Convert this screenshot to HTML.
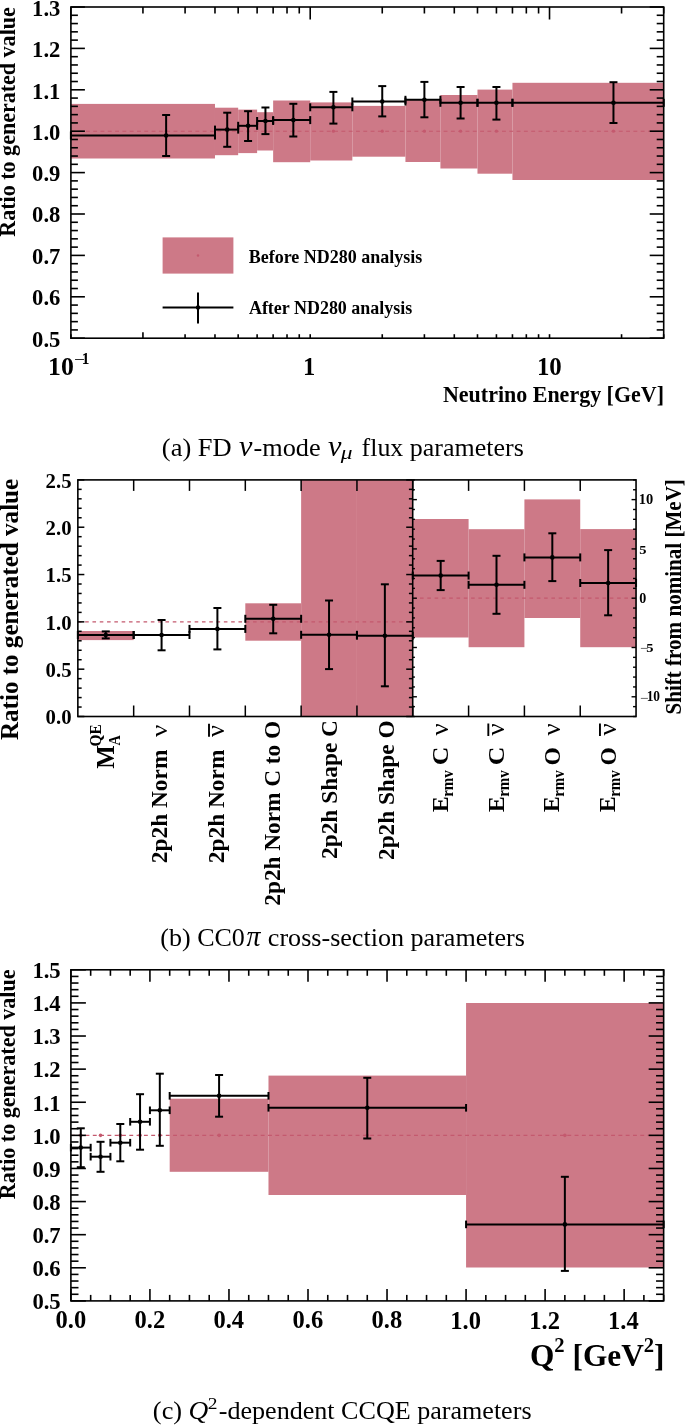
<!DOCTYPE html>
<html><head><meta charset="utf-8"><style>
html,body{margin:0;padding:0;background:#fff;overflow:hidden;}
svg{display:block;will-change:transform;}
text{font-family:"Liberation Serif",serif;fill:#000;}
</style></head><body>
<svg width="685" height="1425" viewBox="0 0 685 1425">
<rect x="70.90" y="103.90" width="144.08" height="54.60" fill="#cd7987"/>
<rect x="214.98" y="107.70" width="23.19" height="47.50" fill="#cd7987"/>
<rect x="238.17" y="109.60" width="18.95" height="43.50" fill="#cd7987"/>
<rect x="257.12" y="112.20" width="16.02" height="38.30" fill="#cd7987"/>
<rect x="273.14" y="100.50" width="37.07" height="61.70" fill="#cd7987"/>
<rect x="310.21" y="102.40" width="42.14" height="58.10" fill="#cd7987"/>
<rect x="352.35" y="105.90" width="53.09" height="50.80" fill="#cd7987"/>
<rect x="405.44" y="100.10" width="34.97" height="61.90" fill="#cd7987"/>
<rect x="440.41" y="95.00" width="37.07" height="73.50" fill="#cd7987"/>
<rect x="477.48" y="89.60" width="34.97" height="84.10" fill="#cd7987"/>
<rect x="512.45" y="82.80" width="151.25" height="97.20" fill="#cd7987"/>
<line x1="70.90" y1="131.20" x2="663.70" y2="131.20" stroke="#c4596e" stroke-width="1.1" stroke-dasharray="3.9 3.4" stroke-dashoffset="-0.4"/>
<circle cx="166.13" cy="131.20" r="1.6" fill="#c4596e"/>
<circle cx="227.22" cy="131.20" r="1.6" fill="#c4596e"/>
<circle cx="248.08" cy="131.20" r="1.6" fill="#c4596e"/>
<circle cx="265.44" cy="131.20" r="1.6" fill="#c4596e"/>
<circle cx="293.32" cy="131.20" r="1.6" fill="#c4596e"/>
<circle cx="333.40" cy="131.20" r="1.6" fill="#c4596e"/>
<circle cx="382.25" cy="131.20" r="1.6" fill="#c4596e"/>
<circle cx="424.39" cy="131.20" r="1.6" fill="#c4596e"/>
<circle cx="460.59" cy="131.20" r="1.6" fill="#c4596e"/>
<circle cx="496.43" cy="131.20" r="1.6" fill="#c4596e"/>
<circle cx="613.46" cy="131.20" r="1.6" fill="#c4596e"/>
<line x1="70.90" y1="135.50" x2="214.98" y2="135.50" stroke="#000" stroke-width="2" />
<line x1="70.90" y1="131.50" x2="70.90" y2="139.50" stroke="#000" stroke-width="2" />
<line x1="214.98" y1="131.50" x2="214.98" y2="139.50" stroke="#000" stroke-width="2" />
<line x1="166.13" y1="115.00" x2="166.13" y2="156.00" stroke="#000" stroke-width="2" />
<line x1="162.13" y1="115.00" x2="170.13" y2="115.00" stroke="#000" stroke-width="2" />
<line x1="162.13" y1="156.00" x2="170.13" y2="156.00" stroke="#000" stroke-width="2" />
<circle cx="166.13" cy="135.50" r="2.3" fill="#000"/>
<line x1="214.98" y1="129.60" x2="238.17" y2="129.60" stroke="#000" stroke-width="2" />
<line x1="214.98" y1="125.60" x2="214.98" y2="133.60" stroke="#000" stroke-width="2" />
<line x1="238.17" y1="125.60" x2="238.17" y2="133.60" stroke="#000" stroke-width="2" />
<line x1="227.22" y1="112.70" x2="227.22" y2="146.80" stroke="#000" stroke-width="2" />
<line x1="223.22" y1="112.70" x2="231.22" y2="112.70" stroke="#000" stroke-width="2" />
<line x1="223.22" y1="146.80" x2="231.22" y2="146.80" stroke="#000" stroke-width="2" />
<circle cx="227.22" cy="129.60" r="2.3" fill="#000"/>
<line x1="238.17" y1="125.80" x2="257.12" y2="125.80" stroke="#000" stroke-width="2" />
<line x1="238.17" y1="121.80" x2="238.17" y2="129.80" stroke="#000" stroke-width="2" />
<line x1="257.12" y1="121.80" x2="257.12" y2="129.80" stroke="#000" stroke-width="2" />
<line x1="248.08" y1="111.20" x2="248.08" y2="141.00" stroke="#000" stroke-width="2" />
<line x1="244.08" y1="111.20" x2="252.08" y2="111.20" stroke="#000" stroke-width="2" />
<line x1="244.08" y1="141.00" x2="252.08" y2="141.00" stroke="#000" stroke-width="2" />
<circle cx="248.08" cy="125.80" r="2.3" fill="#000"/>
<line x1="257.12" y1="121.00" x2="273.14" y2="121.00" stroke="#000" stroke-width="2" />
<line x1="257.12" y1="117.00" x2="257.12" y2="125.00" stroke="#000" stroke-width="2" />
<line x1="273.14" y1="117.00" x2="273.14" y2="125.00" stroke="#000" stroke-width="2" />
<line x1="265.44" y1="107.50" x2="265.44" y2="134.10" stroke="#000" stroke-width="2" />
<line x1="261.44" y1="107.50" x2="269.44" y2="107.50" stroke="#000" stroke-width="2" />
<line x1="261.44" y1="134.10" x2="269.44" y2="134.10" stroke="#000" stroke-width="2" />
<circle cx="265.44" cy="121.00" r="2.3" fill="#000"/>
<line x1="273.14" y1="120.10" x2="310.21" y2="120.10" stroke="#000" stroke-width="2" />
<line x1="273.14" y1="116.10" x2="273.14" y2="124.10" stroke="#000" stroke-width="2" />
<line x1="310.21" y1="116.10" x2="310.21" y2="124.10" stroke="#000" stroke-width="2" />
<line x1="293.32" y1="103.80" x2="293.32" y2="136.50" stroke="#000" stroke-width="2" />
<line x1="289.32" y1="103.80" x2="297.32" y2="103.80" stroke="#000" stroke-width="2" />
<line x1="289.32" y1="136.50" x2="297.32" y2="136.50" stroke="#000" stroke-width="2" />
<circle cx="293.32" cy="120.10" r="2.3" fill="#000"/>
<line x1="310.21" y1="107.30" x2="352.35" y2="107.30" stroke="#000" stroke-width="2" />
<line x1="310.21" y1="103.30" x2="310.21" y2="111.30" stroke="#000" stroke-width="2" />
<line x1="352.35" y1="103.30" x2="352.35" y2="111.30" stroke="#000" stroke-width="2" />
<line x1="333.40" y1="91.90" x2="333.40" y2="123.60" stroke="#000" stroke-width="2" />
<line x1="329.40" y1="91.90" x2="337.40" y2="91.90" stroke="#000" stroke-width="2" />
<line x1="329.40" y1="123.60" x2="337.40" y2="123.60" stroke="#000" stroke-width="2" />
<circle cx="333.40" cy="107.30" r="2.3" fill="#000"/>
<line x1="352.35" y1="101.50" x2="405.44" y2="101.50" stroke="#000" stroke-width="2" />
<line x1="352.35" y1="97.50" x2="352.35" y2="105.50" stroke="#000" stroke-width="2" />
<line x1="405.44" y1="97.50" x2="405.44" y2="105.50" stroke="#000" stroke-width="2" />
<line x1="382.25" y1="86.10" x2="382.25" y2="116.40" stroke="#000" stroke-width="2" />
<line x1="378.25" y1="86.10" x2="386.25" y2="86.10" stroke="#000" stroke-width="2" />
<line x1="378.25" y1="116.40" x2="386.25" y2="116.40" stroke="#000" stroke-width="2" />
<circle cx="382.25" cy="101.50" r="2.3" fill="#000"/>
<line x1="405.44" y1="99.80" x2="440.41" y2="99.80" stroke="#000" stroke-width="2" />
<line x1="405.44" y1="95.80" x2="405.44" y2="103.80" stroke="#000" stroke-width="2" />
<line x1="440.41" y1="95.80" x2="440.41" y2="103.80" stroke="#000" stroke-width="2" />
<line x1="424.39" y1="81.90" x2="424.39" y2="117.30" stroke="#000" stroke-width="2" />
<line x1="420.39" y1="81.90" x2="428.39" y2="81.90" stroke="#000" stroke-width="2" />
<line x1="420.39" y1="117.30" x2="428.39" y2="117.30" stroke="#000" stroke-width="2" />
<circle cx="424.39" cy="99.80" r="2.3" fill="#000"/>
<line x1="440.41" y1="102.80" x2="477.48" y2="102.80" stroke="#000" stroke-width="2" />
<line x1="440.41" y1="98.80" x2="440.41" y2="106.80" stroke="#000" stroke-width="2" />
<line x1="477.48" y1="98.80" x2="477.48" y2="106.80" stroke="#000" stroke-width="2" />
<line x1="460.59" y1="87.00" x2="460.59" y2="118.50" stroke="#000" stroke-width="2" />
<line x1="456.59" y1="87.00" x2="464.59" y2="87.00" stroke="#000" stroke-width="2" />
<line x1="456.59" y1="118.50" x2="464.59" y2="118.50" stroke="#000" stroke-width="2" />
<circle cx="460.59" cy="102.80" r="2.3" fill="#000"/>
<line x1="477.48" y1="102.80" x2="512.45" y2="102.80" stroke="#000" stroke-width="2" />
<line x1="477.48" y1="98.80" x2="477.48" y2="106.80" stroke="#000" stroke-width="2" />
<line x1="512.45" y1="98.80" x2="512.45" y2="106.80" stroke="#000" stroke-width="2" />
<line x1="496.43" y1="87.00" x2="496.43" y2="119.60" stroke="#000" stroke-width="2" />
<line x1="492.43" y1="87.00" x2="500.43" y2="87.00" stroke="#000" stroke-width="2" />
<line x1="492.43" y1="119.60" x2="500.43" y2="119.60" stroke="#000" stroke-width="2" />
<circle cx="496.43" cy="102.80" r="2.3" fill="#000"/>
<line x1="512.45" y1="102.80" x2="663.70" y2="102.80" stroke="#000" stroke-width="2" />
<line x1="512.45" y1="98.80" x2="512.45" y2="106.80" stroke="#000" stroke-width="2" />
<line x1="663.70" y1="98.80" x2="663.70" y2="106.80" stroke="#000" stroke-width="2" />
<line x1="613.46" y1="82.20" x2="613.46" y2="123.00" stroke="#000" stroke-width="2" />
<line x1="609.46" y1="82.20" x2="617.46" y2="82.20" stroke="#000" stroke-width="2" />
<line x1="609.46" y1="123.00" x2="617.46" y2="123.00" stroke="#000" stroke-width="2" />
<circle cx="613.46" cy="102.80" r="2.3" fill="#000"/>
<line x1="70.90" y1="338.20" x2="84.90" y2="338.20" stroke="#000" stroke-width="1.6" />
<line x1="663.70" y1="338.20" x2="649.70" y2="338.20" stroke="#000" stroke-width="1.6" />
<line x1="70.90" y1="329.92" x2="77.90" y2="329.92" stroke="#000" stroke-width="1.6" />
<line x1="663.70" y1="329.92" x2="656.70" y2="329.92" stroke="#000" stroke-width="1.6" />
<line x1="70.90" y1="321.64" x2="77.90" y2="321.64" stroke="#000" stroke-width="1.6" />
<line x1="663.70" y1="321.64" x2="656.70" y2="321.64" stroke="#000" stroke-width="1.6" />
<line x1="70.90" y1="313.36" x2="77.90" y2="313.36" stroke="#000" stroke-width="1.6" />
<line x1="663.70" y1="313.36" x2="656.70" y2="313.36" stroke="#000" stroke-width="1.6" />
<line x1="70.90" y1="305.08" x2="77.90" y2="305.08" stroke="#000" stroke-width="1.6" />
<line x1="663.70" y1="305.08" x2="656.70" y2="305.08" stroke="#000" stroke-width="1.6" />
<line x1="70.90" y1="296.80" x2="84.90" y2="296.80" stroke="#000" stroke-width="1.6" />
<line x1="663.70" y1="296.80" x2="649.70" y2="296.80" stroke="#000" stroke-width="1.6" />
<line x1="70.90" y1="288.52" x2="77.90" y2="288.52" stroke="#000" stroke-width="1.6" />
<line x1="663.70" y1="288.52" x2="656.70" y2="288.52" stroke="#000" stroke-width="1.6" />
<line x1="70.90" y1="280.24" x2="77.90" y2="280.24" stroke="#000" stroke-width="1.6" />
<line x1="663.70" y1="280.24" x2="656.70" y2="280.24" stroke="#000" stroke-width="1.6" />
<line x1="70.90" y1="271.96" x2="77.90" y2="271.96" stroke="#000" stroke-width="1.6" />
<line x1="663.70" y1="271.96" x2="656.70" y2="271.96" stroke="#000" stroke-width="1.6" />
<line x1="70.90" y1="263.68" x2="77.90" y2="263.68" stroke="#000" stroke-width="1.6" />
<line x1="663.70" y1="263.68" x2="656.70" y2="263.68" stroke="#000" stroke-width="1.6" />
<line x1="70.90" y1="255.40" x2="84.90" y2="255.40" stroke="#000" stroke-width="1.6" />
<line x1="663.70" y1="255.40" x2="649.70" y2="255.40" stroke="#000" stroke-width="1.6" />
<line x1="70.90" y1="247.12" x2="77.90" y2="247.12" stroke="#000" stroke-width="1.6" />
<line x1="663.70" y1="247.12" x2="656.70" y2="247.12" stroke="#000" stroke-width="1.6" />
<line x1="70.90" y1="238.84" x2="77.90" y2="238.84" stroke="#000" stroke-width="1.6" />
<line x1="663.70" y1="238.84" x2="656.70" y2="238.84" stroke="#000" stroke-width="1.6" />
<line x1="70.90" y1="230.56" x2="77.90" y2="230.56" stroke="#000" stroke-width="1.6" />
<line x1="663.70" y1="230.56" x2="656.70" y2="230.56" stroke="#000" stroke-width="1.6" />
<line x1="70.90" y1="222.28" x2="77.90" y2="222.28" stroke="#000" stroke-width="1.6" />
<line x1="663.70" y1="222.28" x2="656.70" y2="222.28" stroke="#000" stroke-width="1.6" />
<line x1="70.90" y1="214.00" x2="84.90" y2="214.00" stroke="#000" stroke-width="1.6" />
<line x1="663.70" y1="214.00" x2="649.70" y2="214.00" stroke="#000" stroke-width="1.6" />
<line x1="70.90" y1="205.72" x2="77.90" y2="205.72" stroke="#000" stroke-width="1.6" />
<line x1="663.70" y1="205.72" x2="656.70" y2="205.72" stroke="#000" stroke-width="1.6" />
<line x1="70.90" y1="197.44" x2="77.90" y2="197.44" stroke="#000" stroke-width="1.6" />
<line x1="663.70" y1="197.44" x2="656.70" y2="197.44" stroke="#000" stroke-width="1.6" />
<line x1="70.90" y1="189.16" x2="77.90" y2="189.16" stroke="#000" stroke-width="1.6" />
<line x1="663.70" y1="189.16" x2="656.70" y2="189.16" stroke="#000" stroke-width="1.6" />
<line x1="70.90" y1="180.88" x2="77.90" y2="180.88" stroke="#000" stroke-width="1.6" />
<line x1="663.70" y1="180.88" x2="656.70" y2="180.88" stroke="#000" stroke-width="1.6" />
<line x1="70.90" y1="172.60" x2="84.90" y2="172.60" stroke="#000" stroke-width="1.6" />
<line x1="663.70" y1="172.60" x2="649.70" y2="172.60" stroke="#000" stroke-width="1.6" />
<line x1="70.90" y1="164.32" x2="77.90" y2="164.32" stroke="#000" stroke-width="1.6" />
<line x1="663.70" y1="164.32" x2="656.70" y2="164.32" stroke="#000" stroke-width="1.6" />
<line x1="70.90" y1="156.04" x2="77.90" y2="156.04" stroke="#000" stroke-width="1.6" />
<line x1="663.70" y1="156.04" x2="656.70" y2="156.04" stroke="#000" stroke-width="1.6" />
<line x1="70.90" y1="147.76" x2="77.90" y2="147.76" stroke="#000" stroke-width="1.6" />
<line x1="663.70" y1="147.76" x2="656.70" y2="147.76" stroke="#000" stroke-width="1.6" />
<line x1="70.90" y1="139.48" x2="77.90" y2="139.48" stroke="#000" stroke-width="1.6" />
<line x1="663.70" y1="139.48" x2="656.70" y2="139.48" stroke="#000" stroke-width="1.6" />
<line x1="70.90" y1="131.20" x2="84.90" y2="131.20" stroke="#000" stroke-width="1.6" />
<line x1="663.70" y1="131.20" x2="649.70" y2="131.20" stroke="#000" stroke-width="1.6" />
<line x1="70.90" y1="122.92" x2="77.90" y2="122.92" stroke="#000" stroke-width="1.6" />
<line x1="663.70" y1="122.92" x2="656.70" y2="122.92" stroke="#000" stroke-width="1.6" />
<line x1="70.90" y1="114.64" x2="77.90" y2="114.64" stroke="#000" stroke-width="1.6" />
<line x1="663.70" y1="114.64" x2="656.70" y2="114.64" stroke="#000" stroke-width="1.6" />
<line x1="70.90" y1="106.36" x2="77.90" y2="106.36" stroke="#000" stroke-width="1.6" />
<line x1="663.70" y1="106.36" x2="656.70" y2="106.36" stroke="#000" stroke-width="1.6" />
<line x1="70.90" y1="98.08" x2="77.90" y2="98.08" stroke="#000" stroke-width="1.6" />
<line x1="663.70" y1="98.08" x2="656.70" y2="98.08" stroke="#000" stroke-width="1.6" />
<line x1="70.90" y1="89.80" x2="84.90" y2="89.80" stroke="#000" stroke-width="1.6" />
<line x1="663.70" y1="89.80" x2="649.70" y2="89.80" stroke="#000" stroke-width="1.6" />
<line x1="70.90" y1="81.52" x2="77.90" y2="81.52" stroke="#000" stroke-width="1.6" />
<line x1="663.70" y1="81.52" x2="656.70" y2="81.52" stroke="#000" stroke-width="1.6" />
<line x1="70.90" y1="73.24" x2="77.90" y2="73.24" stroke="#000" stroke-width="1.6" />
<line x1="663.70" y1="73.24" x2="656.70" y2="73.24" stroke="#000" stroke-width="1.6" />
<line x1="70.90" y1="64.96" x2="77.90" y2="64.96" stroke="#000" stroke-width="1.6" />
<line x1="663.70" y1="64.96" x2="656.70" y2="64.96" stroke="#000" stroke-width="1.6" />
<line x1="70.90" y1="56.68" x2="77.90" y2="56.68" stroke="#000" stroke-width="1.6" />
<line x1="663.70" y1="56.68" x2="656.70" y2="56.68" stroke="#000" stroke-width="1.6" />
<line x1="70.90" y1="48.40" x2="84.90" y2="48.40" stroke="#000" stroke-width="1.6" />
<line x1="663.70" y1="48.40" x2="649.70" y2="48.40" stroke="#000" stroke-width="1.6" />
<line x1="70.90" y1="40.12" x2="77.90" y2="40.12" stroke="#000" stroke-width="1.6" />
<line x1="663.70" y1="40.12" x2="656.70" y2="40.12" stroke="#000" stroke-width="1.6" />
<line x1="70.90" y1="31.84" x2="77.90" y2="31.84" stroke="#000" stroke-width="1.6" />
<line x1="663.70" y1="31.84" x2="656.70" y2="31.84" stroke="#000" stroke-width="1.6" />
<line x1="70.90" y1="23.56" x2="77.90" y2="23.56" stroke="#000" stroke-width="1.6" />
<line x1="663.70" y1="23.56" x2="656.70" y2="23.56" stroke="#000" stroke-width="1.6" />
<line x1="70.90" y1="15.28" x2="77.90" y2="15.28" stroke="#000" stroke-width="1.6" />
<line x1="663.70" y1="15.28" x2="656.70" y2="15.28" stroke="#000" stroke-width="1.6" />
<line x1="70.90" y1="7.00" x2="84.90" y2="7.00" stroke="#000" stroke-width="1.6" />
<line x1="663.70" y1="7.00" x2="649.70" y2="7.00" stroke="#000" stroke-width="1.6" />
<text transform="matrix(0.22655 0 0 0.24030 32.088 346.669)" font-size="100" font-weight="bold">0.5</text>
<text transform="matrix(0.22655 0 0 0.24030 32.088 305.269)" font-size="100" font-weight="bold">0.6</text>
<text transform="matrix(0.22655 0 0 0.24030 32.088 263.869)" font-size="100" font-weight="bold">0.7</text>
<text transform="matrix(0.22655 0 0 0.24030 32.088 222.469)" font-size="100" font-weight="bold">0.8</text>
<text transform="matrix(0.22655 0 0 0.24030 32.088 181.069)" font-size="100" font-weight="bold">0.9</text>
<text transform="matrix(0.22655 0 0 0.24030 32.088 139.790)" font-size="100" font-weight="bold">1.0</text>
<text transform="matrix(0.22655 0 0 0.24030 32.088 98.510)" font-size="100" font-weight="bold">1.1</text>
<text transform="matrix(0.22655 0 0 0.24030 32.088 57.110)" font-size="100" font-weight="bold">1.2</text>
<text transform="matrix(0.22655 0 0 0.24030 32.088 15.590)" font-size="100" font-weight="bold">1.3</text>
<line x1="70.90" y1="7.00" x2="70.90" y2="19.50" stroke="#000" stroke-width="1.6" />
<line x1="70.90" y1="338.20" x2="70.90" y2="334.20" stroke="#000" stroke-width="1.6" />
<line x1="142.94" y1="7.00" x2="142.94" y2="13.50" stroke="#000" stroke-width="1.6" />
<line x1="142.94" y1="338.20" x2="142.94" y2="332.20" stroke="#000" stroke-width="1.6" />
<line x1="185.08" y1="7.00" x2="185.08" y2="13.50" stroke="#000" stroke-width="1.6" />
<line x1="185.08" y1="338.20" x2="185.08" y2="334.20" stroke="#000" stroke-width="1.6" />
<line x1="214.98" y1="7.00" x2="214.98" y2="13.50" stroke="#000" stroke-width="1.6" />
<line x1="214.98" y1="338.20" x2="214.98" y2="334.20" stroke="#000" stroke-width="1.6" />
<line x1="238.17" y1="7.00" x2="238.17" y2="13.50" stroke="#000" stroke-width="1.6" />
<line x1="238.17" y1="338.20" x2="238.17" y2="334.20" stroke="#000" stroke-width="1.6" />
<line x1="257.12" y1="7.00" x2="257.12" y2="13.50" stroke="#000" stroke-width="1.6" />
<line x1="257.12" y1="338.20" x2="257.12" y2="334.20" stroke="#000" stroke-width="1.6" />
<line x1="273.14" y1="7.00" x2="273.14" y2="13.50" stroke="#000" stroke-width="1.6" />
<line x1="273.14" y1="338.20" x2="273.14" y2="334.20" stroke="#000" stroke-width="1.6" />
<line x1="287.02" y1="7.00" x2="287.02" y2="13.50" stroke="#000" stroke-width="1.6" />
<line x1="287.02" y1="338.20" x2="287.02" y2="334.20" stroke="#000" stroke-width="1.6" />
<line x1="299.26" y1="7.00" x2="299.26" y2="13.50" stroke="#000" stroke-width="1.6" />
<line x1="299.26" y1="338.20" x2="299.26" y2="334.20" stroke="#000" stroke-width="1.6" />
<line x1="310.21" y1="7.00" x2="310.21" y2="19.50" stroke="#000" stroke-width="1.6" />
<line x1="310.21" y1="338.20" x2="310.21" y2="334.20" stroke="#000" stroke-width="1.6" />
<line x1="382.25" y1="7.00" x2="382.25" y2="13.50" stroke="#000" stroke-width="1.6" />
<line x1="382.25" y1="338.20" x2="382.25" y2="334.20" stroke="#000" stroke-width="1.6" />
<line x1="424.39" y1="7.00" x2="424.39" y2="13.50" stroke="#000" stroke-width="1.6" />
<line x1="424.39" y1="338.20" x2="424.39" y2="334.20" stroke="#000" stroke-width="1.6" />
<line x1="454.29" y1="7.00" x2="454.29" y2="13.50" stroke="#000" stroke-width="1.6" />
<line x1="454.29" y1="338.20" x2="454.29" y2="334.20" stroke="#000" stroke-width="1.6" />
<line x1="477.48" y1="7.00" x2="477.48" y2="13.50" stroke="#000" stroke-width="1.6" />
<line x1="477.48" y1="338.20" x2="477.48" y2="334.20" stroke="#000" stroke-width="1.6" />
<line x1="496.43" y1="7.00" x2="496.43" y2="13.50" stroke="#000" stroke-width="1.6" />
<line x1="496.43" y1="338.20" x2="496.43" y2="334.20" stroke="#000" stroke-width="1.6" />
<line x1="512.45" y1="7.00" x2="512.45" y2="13.50" stroke="#000" stroke-width="1.6" />
<line x1="512.45" y1="338.20" x2="512.45" y2="334.20" stroke="#000" stroke-width="1.6" />
<line x1="526.33" y1="7.00" x2="526.33" y2="13.50" stroke="#000" stroke-width="1.6" />
<line x1="526.33" y1="338.20" x2="526.33" y2="334.20" stroke="#000" stroke-width="1.6" />
<line x1="538.57" y1="7.00" x2="538.57" y2="13.50" stroke="#000" stroke-width="1.6" />
<line x1="538.57" y1="338.20" x2="538.57" y2="334.20" stroke="#000" stroke-width="1.6" />
<line x1="549.52" y1="7.00" x2="549.52" y2="19.50" stroke="#000" stroke-width="1.6" />
<line x1="549.52" y1="338.20" x2="549.52" y2="334.20" stroke="#000" stroke-width="1.6" />
<line x1="621.56" y1="7.00" x2="621.56" y2="13.50" stroke="#000" stroke-width="1.6" />
<line x1="621.56" y1="338.20" x2="621.56" y2="334.20" stroke="#000" stroke-width="1.6" />
<line x1="663.70" y1="7.00" x2="663.70" y2="13.50" stroke="#000" stroke-width="1.6" />
<line x1="663.70" y1="338.20" x2="663.70" y2="334.20" stroke="#000" stroke-width="1.6" />
<rect x="70.9" y="7.0" width="592.80" height="331.20" fill="none" stroke="#000" stroke-width="1.6"/>
<text transform="matrix(0.25795 0.00000 0.00000 0.25441 48.03636 375.09118)" font-size="100" font-weight="bold">10</text>
<text transform="matrix(0.19149 0.00000 0.00000 0.17000 73.94255 365.19500)" font-size="100">−</text>
<text transform="matrix(0.15405 0.00000 0.00000 0.17121 81.86757 364.20000)" font-size="100" font-weight="bold">1</text>
<text transform="matrix(0.24595 0.00000 0.00000 0.25455 303.03243 375.10000)" font-size="100" font-weight="bold">1</text>
<text transform="matrix(0.24886 0.00000 0.00000 0.24706 536.90909 374.80588)" font-size="100" font-weight="bold">10</text>
<text transform="matrix(0.21998 0.00000 0.00000 0.23077 442.96004 401.60000)" font-size="100" font-weight="bold">Neutrino Energy [GeV]</text>
<text transform="matrix(0.00000 -0.22035 0.22846 0.00000 15.20000 236.64069)" font-size="100" font-weight="bold">Ratio to generated value</text>
<rect x="162.60" y="237.40" width="70.80" height="36.20" fill="#cd7987"/>
<circle cx="198.00" cy="255.50" r="1.2" fill="#c4596e"/>
<line x1="162.60" y1="307.40" x2="233.40" y2="307.40" stroke="#000" stroke-width="2" />
<line x1="198.00" y1="292.40" x2="198.00" y2="323.60" stroke="#000" stroke-width="2" />
<circle cx="198.00" cy="307.40" r="2.2" fill="#000"/>
<text transform="matrix(0.18010 0.00000 0.00000 0.18615 248.73979 262.70000)" font-size="100" font-weight="bold">Before ND280 analysis</text>
<text transform="matrix(0.17980 0.00000 0.00000 0.18308 248.92020 313.70000)" font-size="100" font-weight="bold">After ND280 analysis</text>
<text transform="matrix(0.26484 0.00000 0.00000 0.25692 161.84063 455.90000)" font-size="100">(a) FD</text>
<text transform="matrix(0.30238 0.00000 0.00000 0.29362 238.99524 455.60638)" font-size="100" font-style="italic">ν</text>
<text transform="matrix(0.26331 0.00000 0.00000 0.25692 253.44677 455.90000)" font-size="100">-mode</text>
<text transform="matrix(0.30238 0.00000 0.00000 0.29362 327.99524 455.60638)" font-size="100" font-style="italic">ν</text>
<text transform="matrix(0.23404 0.00000 0.00000 0.19552 340.80000 458.99403)" font-size="100" font-style="italic">μ</text>
<text transform="matrix(0.25987 0.00000 0.00000 0.25692 361.52039 455.90000)" font-size="100">flux parameters</text>
<rect x="77.85" y="631.00" width="55.82" height="9.10" fill="#cd7987"/>
<rect x="245.31" y="603.30" width="55.82" height="37.40" fill="#cd7987"/>
<rect x="301.13" y="479.90" width="55.82" height="236.60" fill="#cd7987"/>
<rect x="356.95" y="479.90" width="55.82" height="236.60" fill="#cd7987"/>
<rect x="412.77" y="519.00" width="55.82" height="118.50" fill="#cd7987"/>
<rect x="468.59" y="529.20" width="55.82" height="118.00" fill="#cd7987"/>
<rect x="524.41" y="499.40" width="55.82" height="118.60" fill="#cd7987"/>
<rect x="580.23" y="529.10" width="55.82" height="118.10" fill="#cd7987"/>
<line x1="77.85" y1="621.86" x2="412.70" y2="621.86" stroke="#c4596e" stroke-width="1.2" stroke-dasharray="3.6 3.7"/>
<line x1="412.70" y1="598.20" x2="636.05" y2="598.20" stroke="#c4596e" stroke-width="1.2" stroke-dasharray="3.6 3.7"/>
<line x1="77.85" y1="635.00" x2="133.67" y2="635.00" stroke="#000" stroke-width="2" />
<line x1="77.85" y1="631.00" x2="77.85" y2="639.00" stroke="#000" stroke-width="2" />
<line x1="133.67" y1="631.00" x2="133.67" y2="639.00" stroke="#000" stroke-width="2" />
<line x1="105.76" y1="631.40" x2="105.76" y2="638.40" stroke="#000" stroke-width="2" />
<line x1="101.76" y1="631.40" x2="109.76" y2="631.40" stroke="#000" stroke-width="2" />
<line x1="101.76" y1="638.40" x2="109.76" y2="638.40" stroke="#000" stroke-width="2" />
<circle cx="105.76" cy="635.00" r="2.3" fill="#000"/>
<line x1="133.67" y1="635.00" x2="189.49" y2="635.00" stroke="#000" stroke-width="2" />
<line x1="133.67" y1="631.00" x2="133.67" y2="639.00" stroke="#000" stroke-width="2" />
<line x1="189.49" y1="631.00" x2="189.49" y2="639.00" stroke="#000" stroke-width="2" />
<line x1="161.58" y1="620.00" x2="161.58" y2="650.30" stroke="#000" stroke-width="2" />
<line x1="157.58" y1="620.00" x2="165.58" y2="620.00" stroke="#000" stroke-width="2" />
<line x1="157.58" y1="650.30" x2="165.58" y2="650.30" stroke="#000" stroke-width="2" />
<circle cx="161.58" cy="635.00" r="2.3" fill="#000"/>
<line x1="189.49" y1="628.90" x2="245.31" y2="628.90" stroke="#000" stroke-width="2" />
<line x1="189.49" y1="624.90" x2="189.49" y2="632.90" stroke="#000" stroke-width="2" />
<line x1="245.31" y1="624.90" x2="245.31" y2="632.90" stroke="#000" stroke-width="2" />
<line x1="217.40" y1="608.00" x2="217.40" y2="649.40" stroke="#000" stroke-width="2" />
<line x1="213.40" y1="608.00" x2="221.40" y2="608.00" stroke="#000" stroke-width="2" />
<line x1="213.40" y1="649.40" x2="221.40" y2="649.40" stroke="#000" stroke-width="2" />
<circle cx="217.40" cy="628.90" r="2.3" fill="#000"/>
<line x1="245.31" y1="618.80" x2="301.13" y2="618.80" stroke="#000" stroke-width="2" />
<line x1="245.31" y1="614.80" x2="245.31" y2="622.80" stroke="#000" stroke-width="2" />
<line x1="301.13" y1="614.80" x2="301.13" y2="622.80" stroke="#000" stroke-width="2" />
<line x1="273.22" y1="604.80" x2="273.22" y2="633.30" stroke="#000" stroke-width="2" />
<line x1="269.22" y1="604.80" x2="277.22" y2="604.80" stroke="#000" stroke-width="2" />
<line x1="269.22" y1="633.30" x2="277.22" y2="633.30" stroke="#000" stroke-width="2" />
<circle cx="273.22" cy="618.80" r="2.3" fill="#000"/>
<line x1="301.13" y1="634.80" x2="356.95" y2="634.80" stroke="#000" stroke-width="2" />
<line x1="301.13" y1="630.80" x2="301.13" y2="638.80" stroke="#000" stroke-width="2" />
<line x1="356.95" y1="630.80" x2="356.95" y2="638.80" stroke="#000" stroke-width="2" />
<line x1="329.04" y1="600.50" x2="329.04" y2="669.10" stroke="#000" stroke-width="2" />
<line x1="325.04" y1="600.50" x2="333.04" y2="600.50" stroke="#000" stroke-width="2" />
<line x1="325.04" y1="669.10" x2="333.04" y2="669.10" stroke="#000" stroke-width="2" />
<circle cx="329.04" cy="634.80" r="2.3" fill="#000"/>
<line x1="356.95" y1="635.70" x2="412.77" y2="635.70" stroke="#000" stroke-width="2" />
<line x1="356.95" y1="631.70" x2="356.95" y2="639.70" stroke="#000" stroke-width="2" />
<line x1="412.77" y1="631.70" x2="412.77" y2="639.70" stroke="#000" stroke-width="2" />
<line x1="384.86" y1="584.30" x2="384.86" y2="686.30" stroke="#000" stroke-width="2" />
<line x1="380.86" y1="584.30" x2="388.86" y2="584.30" stroke="#000" stroke-width="2" />
<line x1="380.86" y1="686.30" x2="388.86" y2="686.30" stroke="#000" stroke-width="2" />
<circle cx="384.86" cy="635.70" r="2.3" fill="#000"/>
<line x1="412.77" y1="575.60" x2="468.59" y2="575.60" stroke="#000" stroke-width="2" />
<line x1="412.77" y1="571.60" x2="412.77" y2="579.60" stroke="#000" stroke-width="2" />
<line x1="468.59" y1="571.60" x2="468.59" y2="579.60" stroke="#000" stroke-width="2" />
<line x1="440.68" y1="560.90" x2="440.68" y2="590.10" stroke="#000" stroke-width="2" />
<line x1="436.68" y1="560.90" x2="444.68" y2="560.90" stroke="#000" stroke-width="2" />
<line x1="436.68" y1="590.10" x2="444.68" y2="590.10" stroke="#000" stroke-width="2" />
<circle cx="440.68" cy="575.60" r="2.3" fill="#000"/>
<line x1="468.59" y1="584.80" x2="524.41" y2="584.80" stroke="#000" stroke-width="2" />
<line x1="468.59" y1="580.80" x2="468.59" y2="588.80" stroke="#000" stroke-width="2" />
<line x1="524.41" y1="580.80" x2="524.41" y2="588.80" stroke="#000" stroke-width="2" />
<line x1="496.50" y1="555.80" x2="496.50" y2="613.80" stroke="#000" stroke-width="2" />
<line x1="492.50" y1="555.80" x2="500.50" y2="555.80" stroke="#000" stroke-width="2" />
<line x1="492.50" y1="613.80" x2="500.50" y2="613.80" stroke="#000" stroke-width="2" />
<circle cx="496.50" cy="584.80" r="2.3" fill="#000"/>
<line x1="524.41" y1="557.40" x2="580.23" y2="557.40" stroke="#000" stroke-width="2" />
<line x1="524.41" y1="553.40" x2="524.41" y2="561.40" stroke="#000" stroke-width="2" />
<line x1="580.23" y1="553.40" x2="580.23" y2="561.40" stroke="#000" stroke-width="2" />
<line x1="552.32" y1="533.30" x2="552.32" y2="581.10" stroke="#000" stroke-width="2" />
<line x1="548.32" y1="533.30" x2="556.32" y2="533.30" stroke="#000" stroke-width="2" />
<line x1="548.32" y1="581.10" x2="556.32" y2="581.10" stroke="#000" stroke-width="2" />
<circle cx="552.32" cy="557.40" r="2.3" fill="#000"/>
<line x1="580.23" y1="583.00" x2="636.05" y2="583.00" stroke="#000" stroke-width="2" />
<line x1="580.23" y1="579.00" x2="580.23" y2="587.00" stroke="#000" stroke-width="2" />
<line x1="636.05" y1="579.00" x2="636.05" y2="587.00" stroke="#000" stroke-width="2" />
<line x1="608.14" y1="550.10" x2="608.14" y2="615.30" stroke="#000" stroke-width="2" />
<line x1="604.14" y1="550.10" x2="612.14" y2="550.10" stroke="#000" stroke-width="2" />
<line x1="604.14" y1="615.30" x2="612.14" y2="615.30" stroke="#000" stroke-width="2" />
<circle cx="608.14" cy="583.00" r="2.3" fill="#000"/>
<line x1="77.85" y1="716.50" x2="84.35" y2="716.50" stroke="#000" stroke-width="1.5" />
<line x1="412.70" y1="716.50" x2="406.20" y2="716.50" stroke="#000" stroke-width="1.5" />
<line x1="77.85" y1="707.04" x2="81.65" y2="707.04" stroke="#000" stroke-width="1.5" />
<line x1="412.70" y1="707.04" x2="408.90" y2="707.04" stroke="#000" stroke-width="1.5" />
<line x1="77.85" y1="697.57" x2="81.65" y2="697.57" stroke="#000" stroke-width="1.5" />
<line x1="412.70" y1="697.57" x2="408.90" y2="697.57" stroke="#000" stroke-width="1.5" />
<line x1="77.85" y1="688.11" x2="81.65" y2="688.11" stroke="#000" stroke-width="1.5" />
<line x1="412.70" y1="688.11" x2="408.90" y2="688.11" stroke="#000" stroke-width="1.5" />
<line x1="77.85" y1="678.64" x2="81.65" y2="678.64" stroke="#000" stroke-width="1.5" />
<line x1="412.70" y1="678.64" x2="408.90" y2="678.64" stroke="#000" stroke-width="1.5" />
<line x1="77.85" y1="669.18" x2="84.35" y2="669.18" stroke="#000" stroke-width="1.5" />
<line x1="412.70" y1="669.18" x2="406.20" y2="669.18" stroke="#000" stroke-width="1.5" />
<line x1="77.85" y1="659.72" x2="81.65" y2="659.72" stroke="#000" stroke-width="1.5" />
<line x1="412.70" y1="659.72" x2="408.90" y2="659.72" stroke="#000" stroke-width="1.5" />
<line x1="77.85" y1="650.25" x2="81.65" y2="650.25" stroke="#000" stroke-width="1.5" />
<line x1="412.70" y1="650.25" x2="408.90" y2="650.25" stroke="#000" stroke-width="1.5" />
<line x1="77.85" y1="640.79" x2="81.65" y2="640.79" stroke="#000" stroke-width="1.5" />
<line x1="412.70" y1="640.79" x2="408.90" y2="640.79" stroke="#000" stroke-width="1.5" />
<line x1="77.85" y1="631.32" x2="81.65" y2="631.32" stroke="#000" stroke-width="1.5" />
<line x1="412.70" y1="631.32" x2="408.90" y2="631.32" stroke="#000" stroke-width="1.5" />
<line x1="77.85" y1="621.86" x2="84.35" y2="621.86" stroke="#000" stroke-width="1.5" />
<line x1="412.70" y1="621.86" x2="406.20" y2="621.86" stroke="#000" stroke-width="1.5" />
<line x1="77.85" y1="612.40" x2="81.65" y2="612.40" stroke="#000" stroke-width="1.5" />
<line x1="412.70" y1="612.40" x2="408.90" y2="612.40" stroke="#000" stroke-width="1.5" />
<line x1="77.85" y1="602.93" x2="81.65" y2="602.93" stroke="#000" stroke-width="1.5" />
<line x1="412.70" y1="602.93" x2="408.90" y2="602.93" stroke="#000" stroke-width="1.5" />
<line x1="77.85" y1="593.47" x2="81.65" y2="593.47" stroke="#000" stroke-width="1.5" />
<line x1="412.70" y1="593.47" x2="408.90" y2="593.47" stroke="#000" stroke-width="1.5" />
<line x1="77.85" y1="584.00" x2="81.65" y2="584.00" stroke="#000" stroke-width="1.5" />
<line x1="412.70" y1="584.00" x2="408.90" y2="584.00" stroke="#000" stroke-width="1.5" />
<line x1="77.85" y1="574.54" x2="84.35" y2="574.54" stroke="#000" stroke-width="1.5" />
<line x1="412.70" y1="574.54" x2="406.20" y2="574.54" stroke="#000" stroke-width="1.5" />
<line x1="77.85" y1="565.08" x2="81.65" y2="565.08" stroke="#000" stroke-width="1.5" />
<line x1="412.70" y1="565.08" x2="408.90" y2="565.08" stroke="#000" stroke-width="1.5" />
<line x1="77.85" y1="555.61" x2="81.65" y2="555.61" stroke="#000" stroke-width="1.5" />
<line x1="412.70" y1="555.61" x2="408.90" y2="555.61" stroke="#000" stroke-width="1.5" />
<line x1="77.85" y1="546.15" x2="81.65" y2="546.15" stroke="#000" stroke-width="1.5" />
<line x1="412.70" y1="546.15" x2="408.90" y2="546.15" stroke="#000" stroke-width="1.5" />
<line x1="77.85" y1="536.68" x2="81.65" y2="536.68" stroke="#000" stroke-width="1.5" />
<line x1="412.70" y1="536.68" x2="408.90" y2="536.68" stroke="#000" stroke-width="1.5" />
<line x1="77.85" y1="527.22" x2="84.35" y2="527.22" stroke="#000" stroke-width="1.5" />
<line x1="412.70" y1="527.22" x2="406.20" y2="527.22" stroke="#000" stroke-width="1.5" />
<line x1="77.85" y1="517.76" x2="81.65" y2="517.76" stroke="#000" stroke-width="1.5" />
<line x1="412.70" y1="517.76" x2="408.90" y2="517.76" stroke="#000" stroke-width="1.5" />
<line x1="77.85" y1="508.29" x2="81.65" y2="508.29" stroke="#000" stroke-width="1.5" />
<line x1="412.70" y1="508.29" x2="408.90" y2="508.29" stroke="#000" stroke-width="1.5" />
<line x1="77.85" y1="498.83" x2="81.65" y2="498.83" stroke="#000" stroke-width="1.5" />
<line x1="412.70" y1="498.83" x2="408.90" y2="498.83" stroke="#000" stroke-width="1.5" />
<line x1="77.85" y1="489.36" x2="81.65" y2="489.36" stroke="#000" stroke-width="1.5" />
<line x1="412.70" y1="489.36" x2="408.90" y2="489.36" stroke="#000" stroke-width="1.5" />
<line x1="77.85" y1="479.90" x2="84.35" y2="479.90" stroke="#000" stroke-width="1.5" />
<line x1="412.70" y1="479.90" x2="406.20" y2="479.90" stroke="#000" stroke-width="1.5" />
<text transform="matrix(0.20769 0 0 0.21343 45.569 724.223)" font-size="100" font-weight="bold">0.0</text>
<text transform="matrix(0.20769 0 0 0.21343 45.569 676.903)" font-size="100" font-weight="bold">0.5</text>
<text transform="matrix(0.20769 0 0 0.21343 45.569 629.690)" font-size="100" font-weight="bold">1.0</text>
<text transform="matrix(0.20769 0 0 0.21343 45.569 582.477)" font-size="100" font-weight="bold">1.5</text>
<text transform="matrix(0.20769 0 0 0.21343 45.569 534.943)" font-size="100" font-weight="bold">2.0</text>
<text transform="matrix(0.20769 0 0 0.21343 45.569 487.730)" font-size="100" font-weight="bold">2.5</text>
<line x1="412.70" y1="716.50" x2="414.90" y2="716.50" stroke="#000" stroke-width="1.4" />
<line x1="636.05" y1="716.50" x2="633.05" y2="716.50" stroke="#000" stroke-width="1.4" />
<line x1="412.70" y1="706.64" x2="414.90" y2="706.64" stroke="#000" stroke-width="1.4" />
<line x1="636.05" y1="706.64" x2="633.05" y2="706.64" stroke="#000" stroke-width="1.4" />
<line x1="412.70" y1="696.78" x2="416.90" y2="696.78" stroke="#000" stroke-width="1.4" />
<line x1="636.05" y1="696.78" x2="631.55" y2="696.78" stroke="#000" stroke-width="1.4" />
<line x1="412.70" y1="686.93" x2="414.90" y2="686.93" stroke="#000" stroke-width="1.4" />
<line x1="636.05" y1="686.93" x2="633.05" y2="686.93" stroke="#000" stroke-width="1.4" />
<line x1="412.70" y1="677.07" x2="414.90" y2="677.07" stroke="#000" stroke-width="1.4" />
<line x1="636.05" y1="677.07" x2="633.05" y2="677.07" stroke="#000" stroke-width="1.4" />
<line x1="412.70" y1="667.21" x2="414.90" y2="667.21" stroke="#000" stroke-width="1.4" />
<line x1="636.05" y1="667.21" x2="633.05" y2="667.21" stroke="#000" stroke-width="1.4" />
<line x1="412.70" y1="657.35" x2="414.90" y2="657.35" stroke="#000" stroke-width="1.4" />
<line x1="636.05" y1="657.35" x2="633.05" y2="657.35" stroke="#000" stroke-width="1.4" />
<line x1="412.70" y1="647.49" x2="416.90" y2="647.49" stroke="#000" stroke-width="1.4" />
<line x1="636.05" y1="647.49" x2="631.55" y2="647.49" stroke="#000" stroke-width="1.4" />
<line x1="412.70" y1="637.63" x2="414.90" y2="637.63" stroke="#000" stroke-width="1.4" />
<line x1="636.05" y1="637.63" x2="633.05" y2="637.63" stroke="#000" stroke-width="1.4" />
<line x1="412.70" y1="627.78" x2="414.90" y2="627.78" stroke="#000" stroke-width="1.4" />
<line x1="636.05" y1="627.78" x2="633.05" y2="627.78" stroke="#000" stroke-width="1.4" />
<line x1="412.70" y1="617.92" x2="414.90" y2="617.92" stroke="#000" stroke-width="1.4" />
<line x1="636.05" y1="617.92" x2="633.05" y2="617.92" stroke="#000" stroke-width="1.4" />
<line x1="412.70" y1="608.06" x2="414.90" y2="608.06" stroke="#000" stroke-width="1.4" />
<line x1="636.05" y1="608.06" x2="633.05" y2="608.06" stroke="#000" stroke-width="1.4" />
<line x1="412.70" y1="598.20" x2="416.90" y2="598.20" stroke="#000" stroke-width="1.4" />
<line x1="636.05" y1="598.20" x2="631.55" y2="598.20" stroke="#000" stroke-width="1.4" />
<line x1="412.70" y1="588.34" x2="414.90" y2="588.34" stroke="#000" stroke-width="1.4" />
<line x1="636.05" y1="588.34" x2="633.05" y2="588.34" stroke="#000" stroke-width="1.4" />
<line x1="412.70" y1="578.48" x2="414.90" y2="578.48" stroke="#000" stroke-width="1.4" />
<line x1="636.05" y1="578.48" x2="633.05" y2="578.48" stroke="#000" stroke-width="1.4" />
<line x1="412.70" y1="568.62" x2="414.90" y2="568.62" stroke="#000" stroke-width="1.4" />
<line x1="636.05" y1="568.62" x2="633.05" y2="568.62" stroke="#000" stroke-width="1.4" />
<line x1="412.70" y1="558.77" x2="414.90" y2="558.77" stroke="#000" stroke-width="1.4" />
<line x1="636.05" y1="558.77" x2="633.05" y2="558.77" stroke="#000" stroke-width="1.4" />
<line x1="412.70" y1="548.91" x2="416.90" y2="548.91" stroke="#000" stroke-width="1.4" />
<line x1="636.05" y1="548.91" x2="631.55" y2="548.91" stroke="#000" stroke-width="1.4" />
<line x1="412.70" y1="539.05" x2="414.90" y2="539.05" stroke="#000" stroke-width="1.4" />
<line x1="636.05" y1="539.05" x2="633.05" y2="539.05" stroke="#000" stroke-width="1.4" />
<line x1="412.70" y1="529.19" x2="414.90" y2="529.19" stroke="#000" stroke-width="1.4" />
<line x1="636.05" y1="529.19" x2="633.05" y2="529.19" stroke="#000" stroke-width="1.4" />
<line x1="412.70" y1="519.33" x2="414.90" y2="519.33" stroke="#000" stroke-width="1.4" />
<line x1="636.05" y1="519.33" x2="633.05" y2="519.33" stroke="#000" stroke-width="1.4" />
<line x1="412.70" y1="509.48" x2="414.90" y2="509.48" stroke="#000" stroke-width="1.4" />
<line x1="636.05" y1="509.48" x2="633.05" y2="509.48" stroke="#000" stroke-width="1.4" />
<line x1="412.70" y1="499.62" x2="416.90" y2="499.62" stroke="#000" stroke-width="1.4" />
<line x1="636.05" y1="499.62" x2="631.55" y2="499.62" stroke="#000" stroke-width="1.4" />
<line x1="412.70" y1="489.76" x2="414.90" y2="489.76" stroke="#000" stroke-width="1.4" />
<line x1="636.05" y1="489.76" x2="633.05" y2="489.76" stroke="#000" stroke-width="1.4" />
<line x1="412.70" y1="479.90" x2="414.90" y2="479.90" stroke="#000" stroke-width="1.4" />
<line x1="636.05" y1="479.90" x2="633.05" y2="479.90" stroke="#000" stroke-width="1.4" />
<text transform="matrix(0.14432 0.00000 0.00000 0.13529 638.74545 503.72941)" font-size="100" font-weight="bold">10</text>
<text transform="matrix(0.14524 0.00000 0.00000 0.13485 639.21905 553.76515)" font-size="100" font-weight="bold">5</text>
<text transform="matrix(0.14048 0.00000 0.00000 0.13731 639.23810 602.92537)" font-size="100" font-weight="bold">0</text>
<text transform="matrix(0.14524 0.00000 0.00000 0.13485 646.21905 652.16515)" font-size="100" font-weight="bold">5</text>
<text transform="matrix(0.14681 0.00000 0.00000 0.12000 640.16596 652.22000)" font-size="100">−</text>
<text transform="matrix(0.13409 0.00000 0.00000 0.13529 646.62727 701.42941)" font-size="100" font-weight="bold">10</text>
<text transform="matrix(0.15106 0.00000 0.00000 0.12000 640.14468 701.52000)" font-size="100">−</text>
<line x1="133.67" y1="479.90" x2="133.67" y2="490.90" stroke="#000" stroke-width="1.5" />
<line x1="133.67" y1="716.50" x2="133.67" y2="705.50" stroke="#000" stroke-width="1.5" />
<line x1="189.49" y1="479.90" x2="189.49" y2="490.90" stroke="#000" stroke-width="1.5" />
<line x1="189.49" y1="716.50" x2="189.49" y2="705.50" stroke="#000" stroke-width="1.5" />
<line x1="245.31" y1="479.90" x2="245.31" y2="490.90" stroke="#000" stroke-width="1.5" />
<line x1="245.31" y1="716.50" x2="245.31" y2="705.50" stroke="#000" stroke-width="1.5" />
<line x1="301.13" y1="479.90" x2="301.13" y2="490.90" stroke="#000" stroke-width="1.5" />
<line x1="301.13" y1="716.50" x2="301.13" y2="705.50" stroke="#000" stroke-width="1.5" />
<line x1="356.95" y1="479.90" x2="356.95" y2="490.90" stroke="#000" stroke-width="1.5" />
<line x1="356.95" y1="716.50" x2="356.95" y2="705.50" stroke="#000" stroke-width="1.5" />
<line x1="412.77" y1="479.90" x2="412.77" y2="490.90" stroke="#000" stroke-width="1.5" />
<line x1="412.77" y1="716.50" x2="412.77" y2="705.50" stroke="#000" stroke-width="1.5" />
<line x1="468.59" y1="479.90" x2="468.59" y2="490.90" stroke="#000" stroke-width="1.5" />
<line x1="468.59" y1="716.50" x2="468.59" y2="705.50" stroke="#000" stroke-width="1.5" />
<line x1="524.41" y1="479.90" x2="524.41" y2="490.90" stroke="#000" stroke-width="1.5" />
<line x1="524.41" y1="716.50" x2="524.41" y2="705.50" stroke="#000" stroke-width="1.5" />
<line x1="580.23" y1="479.90" x2="580.23" y2="490.90" stroke="#000" stroke-width="1.5" />
<line x1="580.23" y1="716.50" x2="580.23" y2="705.50" stroke="#000" stroke-width="1.5" />
<line x1="412.70" y1="479.90" x2="412.70" y2="716.50" stroke="#000" stroke-width="1.6" />
<rect x="77.85" y="479.9" width="558.20" height="236.60" fill="none" stroke="#000" stroke-width="1.6"/>
<text transform="matrix(0.00000 -0.25092 0.26000 0.00000 18.10000 740.10183)" font-size="100" font-weight="bold">Ratio to generated value</text>
<text transform="matrix(0.00000 -0.21068 0.22308 0.00000 680.90000 714.45339)" font-size="100" font-weight="bold">Shift from nominal [MeV]</text>
<text transform="matrix(0.00000 -0.24944 0.24769 0.00000 114.00000 768.69888)" font-size="100" font-weight="bold">M</text>
<text transform="matrix(0.00000 -0.14143 0.15692 0.00000 119.80000 745.54143)" font-size="100" font-weight="bold">A</text>
<text transform="matrix(0.00000 -0.15448 0.16154 0.00000 101.10000 746.47239)" font-size="100" font-weight="bold">QE</text>
<text transform="matrix(0.00000 -0.23375 0.23077 0.00000 167.10000 863.23500)" font-size="100" font-weight="bold">2p2h Norm</text>
<text transform="matrix(0.00000 -0.27209 0.22174 0.00000 166.60000 736.90000)" font-size="100">ν</text>
<text transform="matrix(0.00000 -0.23375 0.23077 0.00000 223.80000 863.23500)" font-size="100" font-weight="bold">2p2h Norm</text>
<text transform="matrix(0.00000 -0.26512 0.24130 0.00000 224.20000 737.00000)" font-size="100">ν</text>
<line x1="209.00" y1="736.80" x2="209.00" y2="723.80" stroke="#000" stroke-width="1.9" />
<text transform="matrix(0.00000 -0.23282 0.23077 0.00000 279.80000 905.63130)" font-size="100" font-weight="bold">2p2h Norm C to O</text>
<text transform="matrix(0.00000 -0.23396 0.23077 0.00000 336.90000 859.03585)" font-size="100" font-weight="bold">2p2h Shape C</text>
<text transform="matrix(0.00000 -0.23232 0.23077 0.00000 393.80000 859.92927)" font-size="100" font-weight="bold">2p2h Shape O</text>
<text transform="matrix(0.00000 -0.24000 0.23692 0.00000 447.80000 812.18000)" font-size="100" font-weight="bold">E</text>
<text transform="matrix(0.00000 -0.15029 0.16042 0.00000 452.73958 796.85086)" font-size="100" font-weight="bold">rmv</text>
<text transform="matrix(0.00000 -0.25833 0.23692 0.00000 448.00000 765.29167)" font-size="100" font-weight="bold">C</text>
<text transform="matrix(0.00000 -0.26744 0.24565 0.00000 448.20000 735.50000)" font-size="100">ν</text>
<text transform="matrix(0.00000 -0.24000 0.23692 0.00000 503.62000 812.18000)" font-size="100" font-weight="bold">E</text>
<text transform="matrix(0.00000 -0.15029 0.16042 0.00000 508.55958 796.85086)" font-size="100" font-weight="bold">rmv</text>
<text transform="matrix(0.00000 -0.25833 0.23692 0.00000 503.82000 765.29167)" font-size="100" font-weight="bold">C</text>
<text transform="matrix(0.00000 -0.26744 0.24565 0.00000 504.02000 735.50000)" font-size="100">ν</text>
<line x1="488.32" y1="736.00" x2="488.32" y2="723.50" stroke="#000" stroke-width="1.9" />
<text transform="matrix(0.00000 -0.24000 0.23692 0.00000 559.44000 812.18000)" font-size="100" font-weight="bold">E</text>
<text transform="matrix(0.00000 -0.15029 0.16042 0.00000 564.37958 796.85086)" font-size="100" font-weight="bold">rmv</text>
<text transform="matrix(0.00000 -0.23529 0.24000 0.00000 559.84000 765.47647)" font-size="100" font-weight="bold">O</text>
<text transform="matrix(0.00000 -0.26744 0.24565 0.00000 559.84000 735.50000)" font-size="100">ν</text>
<text transform="matrix(0.00000 -0.24000 0.23692 0.00000 615.26000 812.18000)" font-size="100" font-weight="bold">E</text>
<text transform="matrix(0.00000 -0.15029 0.16042 0.00000 620.19958 796.85086)" font-size="100" font-weight="bold">rmv</text>
<text transform="matrix(0.00000 -0.23529 0.24000 0.00000 615.66000 765.47647)" font-size="100" font-weight="bold">O</text>
<text transform="matrix(0.00000 -0.26744 0.24565 0.00000 615.66000 735.50000)" font-size="100">ν</text>
<line x1="599.96" y1="736.00" x2="599.96" y2="723.50" stroke="#000" stroke-width="1.9" />
<text transform="matrix(0.26057 0.00000 0.00000 0.25692 160.25773 946.00000)" font-size="100">(b) CC0</text>
<text transform="matrix(0.27843 0.00000 0.00000 0.30213 246.52157 945.89787)" font-size="100" font-style="italic">π</text>
<text transform="matrix(0.26104 0.00000 0.00000 0.25692 267.85583 946.00000)" font-size="100">cross-section parameters</text>
<rect x="169.69" y="1098.70" width="98.79" height="73.10" fill="#cd7987"/>
<rect x="268.48" y="1075.60" width="197.58" height="119.40" fill="#cd7987"/>
<rect x="466.07" y="1003.00" width="197.58" height="264.50" fill="#cd7987"/>
<line x1="70.90" y1="1135.35" x2="663.65" y2="1135.35" stroke="#c4596e" stroke-width="1.3" stroke-dasharray="3.9 3.4"/>
<circle cx="80.78" cy="1135.35" r="1.8" fill="#c4596e"/>
<circle cx="100.54" cy="1135.35" r="1.8" fill="#c4596e"/>
<circle cx="120.30" cy="1135.35" r="1.8" fill="#c4596e"/>
<circle cx="140.05" cy="1135.35" r="1.8" fill="#c4596e"/>
<circle cx="159.81" cy="1135.35" r="1.8" fill="#c4596e"/>
<circle cx="219.09" cy="1135.35" r="1.8" fill="#c4596e"/>
<circle cx="367.27" cy="1135.35" r="1.8" fill="#c4596e"/>
<circle cx="564.86" cy="1135.35" r="1.8" fill="#c4596e"/>
<line x1="70.90" y1="1147.60" x2="90.66" y2="1147.60" stroke="#000" stroke-width="2" />
<line x1="70.90" y1="1143.80" x2="70.90" y2="1151.40" stroke="#000" stroke-width="2" />
<line x1="90.66" y1="1143.80" x2="90.66" y2="1151.40" stroke="#000" stroke-width="2" />
<line x1="80.78" y1="1128.30" x2="80.78" y2="1167.20" stroke="#000" stroke-width="2" />
<line x1="76.78" y1="1128.30" x2="84.78" y2="1128.30" stroke="#000" stroke-width="2" />
<line x1="76.78" y1="1167.20" x2="84.78" y2="1167.20" stroke="#000" stroke-width="2" />
<circle cx="80.78" cy="1147.60" r="2.3" fill="#000"/>
<line x1="90.66" y1="1156.70" x2="110.42" y2="1156.70" stroke="#000" stroke-width="2" />
<line x1="90.66" y1="1152.90" x2="90.66" y2="1160.50" stroke="#000" stroke-width="2" />
<line x1="110.42" y1="1152.90" x2="110.42" y2="1160.50" stroke="#000" stroke-width="2" />
<line x1="100.54" y1="1141.80" x2="100.54" y2="1171.80" stroke="#000" stroke-width="2" />
<line x1="96.54" y1="1141.80" x2="104.54" y2="1141.80" stroke="#000" stroke-width="2" />
<line x1="96.54" y1="1171.80" x2="104.54" y2="1171.80" stroke="#000" stroke-width="2" />
<circle cx="100.54" cy="1156.70" r="2.3" fill="#000"/>
<line x1="110.42" y1="1142.70" x2="130.18" y2="1142.70" stroke="#000" stroke-width="2" />
<line x1="110.42" y1="1138.90" x2="110.42" y2="1146.50" stroke="#000" stroke-width="2" />
<line x1="130.18" y1="1138.90" x2="130.18" y2="1146.50" stroke="#000" stroke-width="2" />
<line x1="120.30" y1="1124.00" x2="120.30" y2="1161.30" stroke="#000" stroke-width="2" />
<line x1="116.30" y1="1124.00" x2="124.30" y2="1124.00" stroke="#000" stroke-width="2" />
<line x1="116.30" y1="1161.30" x2="124.30" y2="1161.30" stroke="#000" stroke-width="2" />
<circle cx="120.30" cy="1142.70" r="2.3" fill="#000"/>
<line x1="130.18" y1="1121.80" x2="149.93" y2="1121.80" stroke="#000" stroke-width="2" />
<line x1="130.18" y1="1118.00" x2="130.18" y2="1125.60" stroke="#000" stroke-width="2" />
<line x1="149.93" y1="1118.00" x2="149.93" y2="1125.60" stroke="#000" stroke-width="2" />
<line x1="140.05" y1="1094.20" x2="140.05" y2="1149.70" stroke="#000" stroke-width="2" />
<line x1="136.05" y1="1094.20" x2="144.05" y2="1094.20" stroke="#000" stroke-width="2" />
<line x1="136.05" y1="1149.70" x2="144.05" y2="1149.70" stroke="#000" stroke-width="2" />
<circle cx="140.05" cy="1121.80" r="2.3" fill="#000"/>
<line x1="149.93" y1="1110.30" x2="169.69" y2="1110.30" stroke="#000" stroke-width="2" />
<line x1="149.93" y1="1106.50" x2="149.93" y2="1114.10" stroke="#000" stroke-width="2" />
<line x1="169.69" y1="1106.50" x2="169.69" y2="1114.10" stroke="#000" stroke-width="2" />
<line x1="159.81" y1="1073.70" x2="159.81" y2="1145.80" stroke="#000" stroke-width="2" />
<line x1="155.81" y1="1073.70" x2="163.81" y2="1073.70" stroke="#000" stroke-width="2" />
<line x1="155.81" y1="1145.80" x2="163.81" y2="1145.80" stroke="#000" stroke-width="2" />
<circle cx="159.81" cy="1110.30" r="2.3" fill="#000"/>
<line x1="169.69" y1="1095.80" x2="268.48" y2="1095.80" stroke="#000" stroke-width="2" />
<line x1="169.69" y1="1092.00" x2="169.69" y2="1099.60" stroke="#000" stroke-width="2" />
<line x1="268.48" y1="1092.00" x2="268.48" y2="1099.60" stroke="#000" stroke-width="2" />
<line x1="219.09" y1="1075.00" x2="219.09" y2="1116.70" stroke="#000" stroke-width="2" />
<line x1="215.09" y1="1075.00" x2="223.09" y2="1075.00" stroke="#000" stroke-width="2" />
<line x1="215.09" y1="1116.70" x2="223.09" y2="1116.70" stroke="#000" stroke-width="2" />
<circle cx="219.09" cy="1095.80" r="2.3" fill="#000"/>
<line x1="268.48" y1="1107.80" x2="466.07" y2="1107.80" stroke="#000" stroke-width="2" />
<line x1="268.48" y1="1104.00" x2="268.48" y2="1111.60" stroke="#000" stroke-width="2" />
<line x1="466.07" y1="1104.00" x2="466.07" y2="1111.60" stroke="#000" stroke-width="2" />
<line x1="367.27" y1="1077.80" x2="367.27" y2="1138.50" stroke="#000" stroke-width="2" />
<line x1="363.27" y1="1077.80" x2="371.27" y2="1077.80" stroke="#000" stroke-width="2" />
<line x1="363.27" y1="1138.50" x2="371.27" y2="1138.50" stroke="#000" stroke-width="2" />
<circle cx="367.27" cy="1107.80" r="2.3" fill="#000"/>
<line x1="466.07" y1="1224.40" x2="663.65" y2="1224.40" stroke="#000" stroke-width="2" />
<line x1="466.07" y1="1220.60" x2="466.07" y2="1228.20" stroke="#000" stroke-width="2" />
<line x1="663.65" y1="1220.60" x2="663.65" y2="1228.20" stroke="#000" stroke-width="2" />
<line x1="564.86" y1="1176.80" x2="564.86" y2="1270.90" stroke="#000" stroke-width="2" />
<line x1="560.86" y1="1176.80" x2="568.86" y2="1176.80" stroke="#000" stroke-width="2" />
<line x1="560.86" y1="1270.90" x2="568.86" y2="1270.90" stroke="#000" stroke-width="2" />
<circle cx="564.86" cy="1224.40" r="2.3" fill="#000"/>
<line x1="70.90" y1="1300.90" x2="85.90" y2="1300.90" stroke="#000" stroke-width="1.6" />
<line x1="663.65" y1="1300.90" x2="648.65" y2="1300.90" stroke="#000" stroke-width="1.6" />
<line x1="70.90" y1="1294.28" x2="78.50" y2="1294.28" stroke="#000" stroke-width="1.6" />
<line x1="663.65" y1="1294.28" x2="656.05" y2="1294.28" stroke="#000" stroke-width="1.6" />
<line x1="70.90" y1="1287.66" x2="78.50" y2="1287.66" stroke="#000" stroke-width="1.6" />
<line x1="663.65" y1="1287.66" x2="656.05" y2="1287.66" stroke="#000" stroke-width="1.6" />
<line x1="70.90" y1="1281.03" x2="78.50" y2="1281.03" stroke="#000" stroke-width="1.6" />
<line x1="663.65" y1="1281.03" x2="656.05" y2="1281.03" stroke="#000" stroke-width="1.6" />
<line x1="70.90" y1="1274.41" x2="78.50" y2="1274.41" stroke="#000" stroke-width="1.6" />
<line x1="663.65" y1="1274.41" x2="656.05" y2="1274.41" stroke="#000" stroke-width="1.6" />
<line x1="70.90" y1="1267.79" x2="85.90" y2="1267.79" stroke="#000" stroke-width="1.6" />
<line x1="663.65" y1="1267.79" x2="648.65" y2="1267.79" stroke="#000" stroke-width="1.6" />
<line x1="70.90" y1="1261.17" x2="78.50" y2="1261.17" stroke="#000" stroke-width="1.6" />
<line x1="663.65" y1="1261.17" x2="656.05" y2="1261.17" stroke="#000" stroke-width="1.6" />
<line x1="70.90" y1="1254.55" x2="78.50" y2="1254.55" stroke="#000" stroke-width="1.6" />
<line x1="663.65" y1="1254.55" x2="656.05" y2="1254.55" stroke="#000" stroke-width="1.6" />
<line x1="70.90" y1="1247.92" x2="78.50" y2="1247.92" stroke="#000" stroke-width="1.6" />
<line x1="663.65" y1="1247.92" x2="656.05" y2="1247.92" stroke="#000" stroke-width="1.6" />
<line x1="70.90" y1="1241.30" x2="78.50" y2="1241.30" stroke="#000" stroke-width="1.6" />
<line x1="663.65" y1="1241.30" x2="656.05" y2="1241.30" stroke="#000" stroke-width="1.6" />
<line x1="70.90" y1="1234.68" x2="85.90" y2="1234.68" stroke="#000" stroke-width="1.6" />
<line x1="663.65" y1="1234.68" x2="648.65" y2="1234.68" stroke="#000" stroke-width="1.6" />
<line x1="70.90" y1="1228.06" x2="78.50" y2="1228.06" stroke="#000" stroke-width="1.6" />
<line x1="663.65" y1="1228.06" x2="656.05" y2="1228.06" stroke="#000" stroke-width="1.6" />
<line x1="70.90" y1="1221.44" x2="78.50" y2="1221.44" stroke="#000" stroke-width="1.6" />
<line x1="663.65" y1="1221.44" x2="656.05" y2="1221.44" stroke="#000" stroke-width="1.6" />
<line x1="70.90" y1="1214.81" x2="78.50" y2="1214.81" stroke="#000" stroke-width="1.6" />
<line x1="663.65" y1="1214.81" x2="656.05" y2="1214.81" stroke="#000" stroke-width="1.6" />
<line x1="70.90" y1="1208.19" x2="78.50" y2="1208.19" stroke="#000" stroke-width="1.6" />
<line x1="663.65" y1="1208.19" x2="656.05" y2="1208.19" stroke="#000" stroke-width="1.6" />
<line x1="70.90" y1="1201.57" x2="85.90" y2="1201.57" stroke="#000" stroke-width="1.6" />
<line x1="663.65" y1="1201.57" x2="648.65" y2="1201.57" stroke="#000" stroke-width="1.6" />
<line x1="70.90" y1="1194.95" x2="78.50" y2="1194.95" stroke="#000" stroke-width="1.6" />
<line x1="663.65" y1="1194.95" x2="656.05" y2="1194.95" stroke="#000" stroke-width="1.6" />
<line x1="70.90" y1="1188.33" x2="78.50" y2="1188.33" stroke="#000" stroke-width="1.6" />
<line x1="663.65" y1="1188.33" x2="656.05" y2="1188.33" stroke="#000" stroke-width="1.6" />
<line x1="70.90" y1="1181.70" x2="78.50" y2="1181.70" stroke="#000" stroke-width="1.6" />
<line x1="663.65" y1="1181.70" x2="656.05" y2="1181.70" stroke="#000" stroke-width="1.6" />
<line x1="70.90" y1="1175.08" x2="78.50" y2="1175.08" stroke="#000" stroke-width="1.6" />
<line x1="663.65" y1="1175.08" x2="656.05" y2="1175.08" stroke="#000" stroke-width="1.6" />
<line x1="70.90" y1="1168.46" x2="85.90" y2="1168.46" stroke="#000" stroke-width="1.6" />
<line x1="663.65" y1="1168.46" x2="648.65" y2="1168.46" stroke="#000" stroke-width="1.6" />
<line x1="70.90" y1="1161.84" x2="78.50" y2="1161.84" stroke="#000" stroke-width="1.6" />
<line x1="663.65" y1="1161.84" x2="656.05" y2="1161.84" stroke="#000" stroke-width="1.6" />
<line x1="70.90" y1="1155.22" x2="78.50" y2="1155.22" stroke="#000" stroke-width="1.6" />
<line x1="663.65" y1="1155.22" x2="656.05" y2="1155.22" stroke="#000" stroke-width="1.6" />
<line x1="70.90" y1="1148.59" x2="78.50" y2="1148.59" stroke="#000" stroke-width="1.6" />
<line x1="663.65" y1="1148.59" x2="656.05" y2="1148.59" stroke="#000" stroke-width="1.6" />
<line x1="70.90" y1="1141.97" x2="78.50" y2="1141.97" stroke="#000" stroke-width="1.6" />
<line x1="663.65" y1="1141.97" x2="656.05" y2="1141.97" stroke="#000" stroke-width="1.6" />
<line x1="70.90" y1="1135.35" x2="85.90" y2="1135.35" stroke="#000" stroke-width="1.6" />
<line x1="663.65" y1="1135.35" x2="648.65" y2="1135.35" stroke="#000" stroke-width="1.6" />
<line x1="70.90" y1="1128.73" x2="78.50" y2="1128.73" stroke="#000" stroke-width="1.6" />
<line x1="663.65" y1="1128.73" x2="656.05" y2="1128.73" stroke="#000" stroke-width="1.6" />
<line x1="70.90" y1="1122.11" x2="78.50" y2="1122.11" stroke="#000" stroke-width="1.6" />
<line x1="663.65" y1="1122.11" x2="656.05" y2="1122.11" stroke="#000" stroke-width="1.6" />
<line x1="70.90" y1="1115.48" x2="78.50" y2="1115.48" stroke="#000" stroke-width="1.6" />
<line x1="663.65" y1="1115.48" x2="656.05" y2="1115.48" stroke="#000" stroke-width="1.6" />
<line x1="70.90" y1="1108.86" x2="78.50" y2="1108.86" stroke="#000" stroke-width="1.6" />
<line x1="663.65" y1="1108.86" x2="656.05" y2="1108.86" stroke="#000" stroke-width="1.6" />
<line x1="70.90" y1="1102.24" x2="85.90" y2="1102.24" stroke="#000" stroke-width="1.6" />
<line x1="663.65" y1="1102.24" x2="648.65" y2="1102.24" stroke="#000" stroke-width="1.6" />
<line x1="70.90" y1="1095.62" x2="78.50" y2="1095.62" stroke="#000" stroke-width="1.6" />
<line x1="663.65" y1="1095.62" x2="656.05" y2="1095.62" stroke="#000" stroke-width="1.6" />
<line x1="70.90" y1="1089.00" x2="78.50" y2="1089.00" stroke="#000" stroke-width="1.6" />
<line x1="663.65" y1="1089.00" x2="656.05" y2="1089.00" stroke="#000" stroke-width="1.6" />
<line x1="70.90" y1="1082.37" x2="78.50" y2="1082.37" stroke="#000" stroke-width="1.6" />
<line x1="663.65" y1="1082.37" x2="656.05" y2="1082.37" stroke="#000" stroke-width="1.6" />
<line x1="70.90" y1="1075.75" x2="78.50" y2="1075.75" stroke="#000" stroke-width="1.6" />
<line x1="663.65" y1="1075.75" x2="656.05" y2="1075.75" stroke="#000" stroke-width="1.6" />
<line x1="70.90" y1="1069.13" x2="85.90" y2="1069.13" stroke="#000" stroke-width="1.6" />
<line x1="663.65" y1="1069.13" x2="648.65" y2="1069.13" stroke="#000" stroke-width="1.6" />
<line x1="70.90" y1="1062.51" x2="78.50" y2="1062.51" stroke="#000" stroke-width="1.6" />
<line x1="663.65" y1="1062.51" x2="656.05" y2="1062.51" stroke="#000" stroke-width="1.6" />
<line x1="70.90" y1="1055.89" x2="78.50" y2="1055.89" stroke="#000" stroke-width="1.6" />
<line x1="663.65" y1="1055.89" x2="656.05" y2="1055.89" stroke="#000" stroke-width="1.6" />
<line x1="70.90" y1="1049.26" x2="78.50" y2="1049.26" stroke="#000" stroke-width="1.6" />
<line x1="663.65" y1="1049.26" x2="656.05" y2="1049.26" stroke="#000" stroke-width="1.6" />
<line x1="70.90" y1="1042.64" x2="78.50" y2="1042.64" stroke="#000" stroke-width="1.6" />
<line x1="663.65" y1="1042.64" x2="656.05" y2="1042.64" stroke="#000" stroke-width="1.6" />
<line x1="70.90" y1="1036.02" x2="85.90" y2="1036.02" stroke="#000" stroke-width="1.6" />
<line x1="663.65" y1="1036.02" x2="648.65" y2="1036.02" stroke="#000" stroke-width="1.6" />
<line x1="70.90" y1="1029.40" x2="78.50" y2="1029.40" stroke="#000" stroke-width="1.6" />
<line x1="663.65" y1="1029.40" x2="656.05" y2="1029.40" stroke="#000" stroke-width="1.6" />
<line x1="70.90" y1="1022.78" x2="78.50" y2="1022.78" stroke="#000" stroke-width="1.6" />
<line x1="663.65" y1="1022.78" x2="656.05" y2="1022.78" stroke="#000" stroke-width="1.6" />
<line x1="70.90" y1="1016.15" x2="78.50" y2="1016.15" stroke="#000" stroke-width="1.6" />
<line x1="663.65" y1="1016.15" x2="656.05" y2="1016.15" stroke="#000" stroke-width="1.6" />
<line x1="70.90" y1="1009.53" x2="78.50" y2="1009.53" stroke="#000" stroke-width="1.6" />
<line x1="663.65" y1="1009.53" x2="656.05" y2="1009.53" stroke="#000" stroke-width="1.6" />
<line x1="70.90" y1="1002.91" x2="85.90" y2="1002.91" stroke="#000" stroke-width="1.6" />
<line x1="663.65" y1="1002.91" x2="648.65" y2="1002.91" stroke="#000" stroke-width="1.6" />
<line x1="70.90" y1="996.29" x2="78.50" y2="996.29" stroke="#000" stroke-width="1.6" />
<line x1="663.65" y1="996.29" x2="656.05" y2="996.29" stroke="#000" stroke-width="1.6" />
<line x1="70.90" y1="989.67" x2="78.50" y2="989.67" stroke="#000" stroke-width="1.6" />
<line x1="663.65" y1="989.67" x2="656.05" y2="989.67" stroke="#000" stroke-width="1.6" />
<line x1="70.90" y1="983.04" x2="78.50" y2="983.04" stroke="#000" stroke-width="1.6" />
<line x1="663.65" y1="983.04" x2="656.05" y2="983.04" stroke="#000" stroke-width="1.6" />
<line x1="70.90" y1="976.42" x2="78.50" y2="976.42" stroke="#000" stroke-width="1.6" />
<line x1="663.65" y1="976.42" x2="656.05" y2="976.42" stroke="#000" stroke-width="1.6" />
<line x1="70.90" y1="969.80" x2="85.90" y2="969.80" stroke="#000" stroke-width="1.6" />
<line x1="663.65" y1="969.80" x2="648.65" y2="969.80" stroke="#000" stroke-width="1.6" />
<text transform="matrix(0.22655 0 0 0.22836 32.388 1308.943)" font-size="100" font-weight="bold">0.5</text>
<text transform="matrix(0.22655 0 0 0.22836 32.388 1275.833)" font-size="100" font-weight="bold">0.6</text>
<text transform="matrix(0.22655 0 0 0.22836 32.388 1242.723)" font-size="100" font-weight="bold">0.7</text>
<text transform="matrix(0.22655 0 0 0.22836 32.388 1209.613)" font-size="100" font-weight="bold">0.8</text>
<text transform="matrix(0.22655 0 0 0.22836 32.388 1176.503)" font-size="100" font-weight="bold">0.9</text>
<text transform="matrix(0.22655 0 0 0.22836 32.388 1143.507)" font-size="100" font-weight="bold">1.0</text>
<text transform="matrix(0.22655 0 0 0.22836 32.388 1110.512)" font-size="100" font-weight="bold">1.1</text>
<text transform="matrix(0.22655 0 0 0.22836 32.388 1077.402)" font-size="100" font-weight="bold">1.2</text>
<text transform="matrix(0.22655 0 0 0.22836 32.388 1044.177)" font-size="100" font-weight="bold">1.3</text>
<text transform="matrix(0.22655 0 0 0.22836 32.388 1011.182)" font-size="100" font-weight="bold">1.4</text>
<text transform="matrix(0.22655 0 0 0.22836 32.388 978.072)" font-size="100" font-weight="bold">1.5</text>
<line x1="70.90" y1="969.80" x2="70.90" y2="981.80" stroke="#000" stroke-width="1.6" />
<line x1="70.90" y1="1300.90" x2="70.90" y2="1288.90" stroke="#000" stroke-width="1.6" />
<line x1="90.66" y1="969.80" x2="90.66" y2="975.80" stroke="#000" stroke-width="1.6" />
<line x1="90.66" y1="1300.90" x2="90.66" y2="1294.90" stroke="#000" stroke-width="1.6" />
<line x1="110.42" y1="969.80" x2="110.42" y2="975.80" stroke="#000" stroke-width="1.6" />
<line x1="110.42" y1="1300.90" x2="110.42" y2="1294.90" stroke="#000" stroke-width="1.6" />
<line x1="130.18" y1="969.80" x2="130.18" y2="975.80" stroke="#000" stroke-width="1.6" />
<line x1="130.18" y1="1300.90" x2="130.18" y2="1294.90" stroke="#000" stroke-width="1.6" />
<line x1="149.93" y1="969.80" x2="149.93" y2="981.80" stroke="#000" stroke-width="1.6" />
<line x1="149.93" y1="1300.90" x2="149.93" y2="1288.90" stroke="#000" stroke-width="1.6" />
<line x1="169.69" y1="969.80" x2="169.69" y2="975.80" stroke="#000" stroke-width="1.6" />
<line x1="169.69" y1="1300.90" x2="169.69" y2="1294.90" stroke="#000" stroke-width="1.6" />
<line x1="189.45" y1="969.80" x2="189.45" y2="975.80" stroke="#000" stroke-width="1.6" />
<line x1="189.45" y1="1300.90" x2="189.45" y2="1294.90" stroke="#000" stroke-width="1.6" />
<line x1="209.21" y1="969.80" x2="209.21" y2="975.80" stroke="#000" stroke-width="1.6" />
<line x1="209.21" y1="1300.90" x2="209.21" y2="1294.90" stroke="#000" stroke-width="1.6" />
<line x1="228.97" y1="969.80" x2="228.97" y2="981.80" stroke="#000" stroke-width="1.6" />
<line x1="228.97" y1="1300.90" x2="228.97" y2="1288.90" stroke="#000" stroke-width="1.6" />
<line x1="248.73" y1="969.80" x2="248.73" y2="975.80" stroke="#000" stroke-width="1.6" />
<line x1="248.73" y1="1300.90" x2="248.73" y2="1294.90" stroke="#000" stroke-width="1.6" />
<line x1="268.48" y1="969.80" x2="268.48" y2="975.80" stroke="#000" stroke-width="1.6" />
<line x1="268.48" y1="1300.90" x2="268.48" y2="1294.90" stroke="#000" stroke-width="1.6" />
<line x1="288.24" y1="969.80" x2="288.24" y2="975.80" stroke="#000" stroke-width="1.6" />
<line x1="288.24" y1="1300.90" x2="288.24" y2="1294.90" stroke="#000" stroke-width="1.6" />
<line x1="308.00" y1="969.80" x2="308.00" y2="981.80" stroke="#000" stroke-width="1.6" />
<line x1="308.00" y1="1300.90" x2="308.00" y2="1288.90" stroke="#000" stroke-width="1.6" />
<line x1="327.76" y1="969.80" x2="327.76" y2="975.80" stroke="#000" stroke-width="1.6" />
<line x1="327.76" y1="1300.90" x2="327.76" y2="1294.90" stroke="#000" stroke-width="1.6" />
<line x1="347.52" y1="969.80" x2="347.52" y2="975.80" stroke="#000" stroke-width="1.6" />
<line x1="347.52" y1="1300.90" x2="347.52" y2="1294.90" stroke="#000" stroke-width="1.6" />
<line x1="367.27" y1="969.80" x2="367.27" y2="975.80" stroke="#000" stroke-width="1.6" />
<line x1="367.27" y1="1300.90" x2="367.27" y2="1294.90" stroke="#000" stroke-width="1.6" />
<line x1="387.03" y1="969.80" x2="387.03" y2="981.80" stroke="#000" stroke-width="1.6" />
<line x1="387.03" y1="1300.90" x2="387.03" y2="1288.90" stroke="#000" stroke-width="1.6" />
<line x1="406.79" y1="969.80" x2="406.79" y2="975.80" stroke="#000" stroke-width="1.6" />
<line x1="406.79" y1="1300.90" x2="406.79" y2="1294.90" stroke="#000" stroke-width="1.6" />
<line x1="426.55" y1="969.80" x2="426.55" y2="975.80" stroke="#000" stroke-width="1.6" />
<line x1="426.55" y1="1300.90" x2="426.55" y2="1294.90" stroke="#000" stroke-width="1.6" />
<line x1="446.31" y1="969.80" x2="446.31" y2="975.80" stroke="#000" stroke-width="1.6" />
<line x1="446.31" y1="1300.90" x2="446.31" y2="1294.90" stroke="#000" stroke-width="1.6" />
<line x1="466.07" y1="969.80" x2="466.07" y2="981.80" stroke="#000" stroke-width="1.6" />
<line x1="466.07" y1="1300.90" x2="466.07" y2="1288.90" stroke="#000" stroke-width="1.6" />
<line x1="485.83" y1="969.80" x2="485.83" y2="975.80" stroke="#000" stroke-width="1.6" />
<line x1="485.83" y1="1300.90" x2="485.83" y2="1294.90" stroke="#000" stroke-width="1.6" />
<line x1="505.58" y1="969.80" x2="505.58" y2="975.80" stroke="#000" stroke-width="1.6" />
<line x1="505.58" y1="1300.90" x2="505.58" y2="1294.90" stroke="#000" stroke-width="1.6" />
<line x1="525.34" y1="969.80" x2="525.34" y2="975.80" stroke="#000" stroke-width="1.6" />
<line x1="525.34" y1="1300.90" x2="525.34" y2="1294.90" stroke="#000" stroke-width="1.6" />
<line x1="545.10" y1="969.80" x2="545.10" y2="981.80" stroke="#000" stroke-width="1.6" />
<line x1="545.10" y1="1300.90" x2="545.10" y2="1288.90" stroke="#000" stroke-width="1.6" />
<line x1="564.86" y1="969.80" x2="564.86" y2="975.80" stroke="#000" stroke-width="1.6" />
<line x1="564.86" y1="1300.90" x2="564.86" y2="1294.90" stroke="#000" stroke-width="1.6" />
<line x1="584.62" y1="969.80" x2="584.62" y2="975.80" stroke="#000" stroke-width="1.6" />
<line x1="584.62" y1="1300.90" x2="584.62" y2="1294.90" stroke="#000" stroke-width="1.6" />
<line x1="604.38" y1="969.80" x2="604.38" y2="975.80" stroke="#000" stroke-width="1.6" />
<line x1="604.38" y1="1300.90" x2="604.38" y2="1294.90" stroke="#000" stroke-width="1.6" />
<line x1="624.13" y1="969.80" x2="624.13" y2="981.80" stroke="#000" stroke-width="1.6" />
<line x1="624.13" y1="1300.90" x2="624.13" y2="1288.90" stroke="#000" stroke-width="1.6" />
<line x1="643.89" y1="969.80" x2="643.89" y2="975.80" stroke="#000" stroke-width="1.6" />
<line x1="643.89" y1="1300.90" x2="643.89" y2="1294.90" stroke="#000" stroke-width="1.6" />
<line x1="663.65" y1="969.80" x2="663.65" y2="975.80" stroke="#000" stroke-width="1.6" />
<line x1="663.65" y1="1300.90" x2="663.65" y2="1294.90" stroke="#000" stroke-width="1.6" />
<rect x="70.9" y="969.8" width="592.75" height="331.10" fill="none" stroke="#000" stroke-width="1.6"/>
<text transform="matrix(0.24530 0.00000 0.00000 0.25522 55.56880 1328.48955)" font-size="100" font-weight="bold">0.0</text>
<text transform="matrix(0.24530 0.00000 0.00000 0.25522 134.60214 1328.48955)" font-size="100" font-weight="bold">0.2</text>
<text transform="matrix(0.24530 0.00000 0.00000 0.25522 213.39017 1328.48955)" font-size="100" font-weight="bold">0.4</text>
<text transform="matrix(0.24530 0.00000 0.00000 0.25522 292.54615 1328.48955)" font-size="100" font-weight="bold">0.6</text>
<text transform="matrix(0.24530 0.00000 0.00000 0.25522 371.57949 1328.48955)" font-size="100" font-weight="bold">0.8</text>
<text transform="matrix(0.24530 0.00000 0.00000 0.25522 450.24487 1328.61716)" font-size="100" font-weight="bold">1.0</text>
<text transform="matrix(0.24530 0.00000 0.00000 0.25522 529.27821 1328.74478)" font-size="100" font-weight="bold">1.2</text>
<text transform="matrix(0.24530 0.00000 0.00000 0.25522 608.06624 1328.74478)" font-size="100" font-weight="bold">1.4</text>
<text transform="matrix(0.31295 0.00000 0.00000 0.32308 530.03525 1365.50000)" font-size="100" font-weight="bold">Q<tspan dy="-43" font-size="66">2</tspan><tspan dy="43"> [GeV</tspan><tspan dy="-43" font-size="66">2</tspan><tspan dy="43">]</tspan></text>
<text transform="matrix(0.00000 -0.22064 0.22846 0.00000 15.10000 1199.14127)" font-size="100" font-weight="bold">Ratio to generated value</text>
<text transform="matrix(0.26408 0.00000 0.00000 0.25692 152.84369 1419.40000)" font-size="100">(c)</text>
<text transform="matrix(0.27344 0.00000 0.00000 0.25732 188.45937 1419.12561)" font-size="100" font-style="italic">Q</text>
<text transform="matrix(0.19500 0.00000 0.00000 0.17538 207.72000 1409.00000)" font-size="100">2</text>
<text transform="matrix(0.26091 0.00000 0.00000 0.25692 218.75638 1419.40000)" font-size="100">-dependent CCQE parameters</text>
</svg>
</body></html>
